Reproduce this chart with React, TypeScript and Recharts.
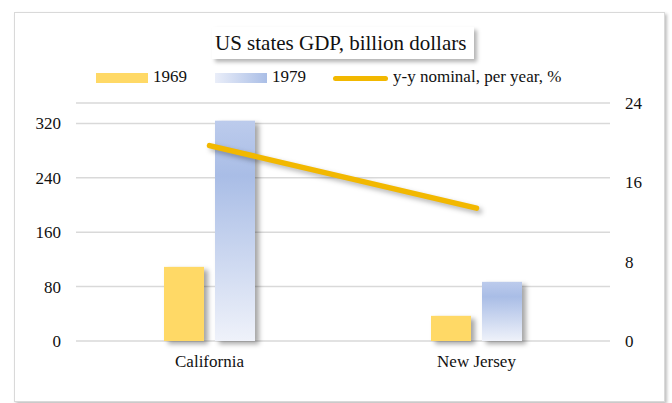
import React from 'react';
import { ComposedChart, Bar, Line, XAxis, YAxis, CartesianGrid } from 'recharts';

const states = ['California', 'New Jersey'];
const gdp1969 = [109, 37];
const gdp1979 = [324, 87];
const yyNominal = [19.7, 13.4];
const leftTicks = [0, 80, 160, 240, 320];
const rightTicks = [0, 8, 16, 24];

const data = states.map((s, i) => ({ state: s, g1969: gdp1969[i], g1979: gdp1979[i], yy: yyNominal[i] }));

const FONT = '"Liberation Serif", "Times New Roman", serif';

const BarShape = (p: any) => (
  <rect x={p.x} y={p.y} width={p.width} height={p.height} fill={p.fill}
    style={{ filter: 'drop-shadow(4px 3px 2.5px rgba(0,0,0,0.35))' }} />
);

export default function App() {
  return (
    <div style={{ position: 'absolute', left: 0, top: 0, width: 672, height: 403, background: '#fff', fontFamily: FONT }}>
      <div style={{ position: 'absolute', left: 14, top: 12, width: 649, height: 388, border: '1px solid #d9d9d9', boxShadow: '2px 2px 3px rgba(0,0,0,0.25)', background: '#fff' }} />
      <div style={{ position: 'absolute', left: 0, top: 0 }}>
        <ComposedChart width={672} height={403} data={data} margin={{ top: 103, right: 12, bottom: 32, left: 16 }} barSize={40} barGap={11}>
          <defs>
            <linearGradient id="g79" x1="0" y1="0" x2="0" y2="1">
              <stop offset="0%" stopColor="#bccbec" />
              <stop offset="25%" stopColor="#a9bde6" />
              <stop offset="100%" stopColor="#eff2fa" />
            </linearGradient>
          </defs>
          <CartesianGrid vertical={false} yAxisId="left" stroke="#d9d9d9" strokeWidth={1.5} />
          <XAxis dataKey="state" axisLine={false} tickLine={false} tickSize={0} tickMargin={14} height={30}
            tick={{ fontSize: 17, fill: '#111', fontFamily: FONT }} />
          <YAxis yAxisId="left" domain={[0, 350]} ticks={leftTicks} axisLine={false} tickLine={false} tickSize={0}
            tickMargin={15} width={60} tick={{ fontSize: 17, fill: '#111', fontFamily: FONT }} />
          <YAxis yAxisId="right" orientation="right" domain={[0, 24]} ticks={rightTicks} axisLine={false} tickLine={false}
            tickSize={0} tickMargin={15} width={50} tick={{ fontSize: 17, fill: '#111', fontFamily: FONT, textAnchor: 'start' }} />
          <Bar yAxisId="left" dataKey="g1969" fill="#ffd966" shape={BarShape} isAnimationActive={false} />
          <Bar yAxisId="left" dataKey="g1979" fill="url(#g79)" shape={BarShape} isAnimationActive={false} />
          <Line yAxisId="right" dataKey="yy" stroke="#f2b800" strokeWidth={5.5} strokeLinecap="round" dot={false}
            activeDot={false} style={{ filter: 'drop-shadow(3px 3px 2.5px rgba(0,0,0,0.3))' }} isAnimationActive={false} />
        </ComposedChart>
      </div>
      <div style={{ position: 'absolute', left: 212, top: 27, width: 262, height: 32, background: '#fff', boxShadow: '3px 3px 4px rgba(0,0,0,0.3)' }} />
      <div style={{ position: 'absolute', left: 215, top: 29, fontSize: 21, lineHeight: '28px', color: '#111', whiteSpace: 'nowrap' }}>US states GDP, billion dollars</div>
      <div style={{ position: 'absolute', left: 96, top: 73, width: 52, height: 10, background: '#ffd966' }} />
      <div style={{ position: 'absolute', left: 153, top: 67, fontSize: 17, lineHeight: '20px', color: '#111' }}>1969</div>
      <div style={{ position: 'absolute', left: 215, top: 73, width: 52, height: 10, background: 'linear-gradient(to right, #eaeef9, #aabee6)' }} />
      <div style={{ position: 'absolute', left: 272, top: 67, fontSize: 17, lineHeight: '20px', color: '#111' }}>1979</div>
      <div style={{ position: 'absolute', left: 333, top: 75.5, width: 55, height: 5, borderRadius: 3, background: '#f2b800' }} />
      <div style={{ position: 'absolute', left: 393, top: 67, fontSize: 17, lineHeight: '20px', color: '#111', whiteSpace: 'nowrap' }}>y-y nominal, per year, %</div>
    </div>
  );
}
